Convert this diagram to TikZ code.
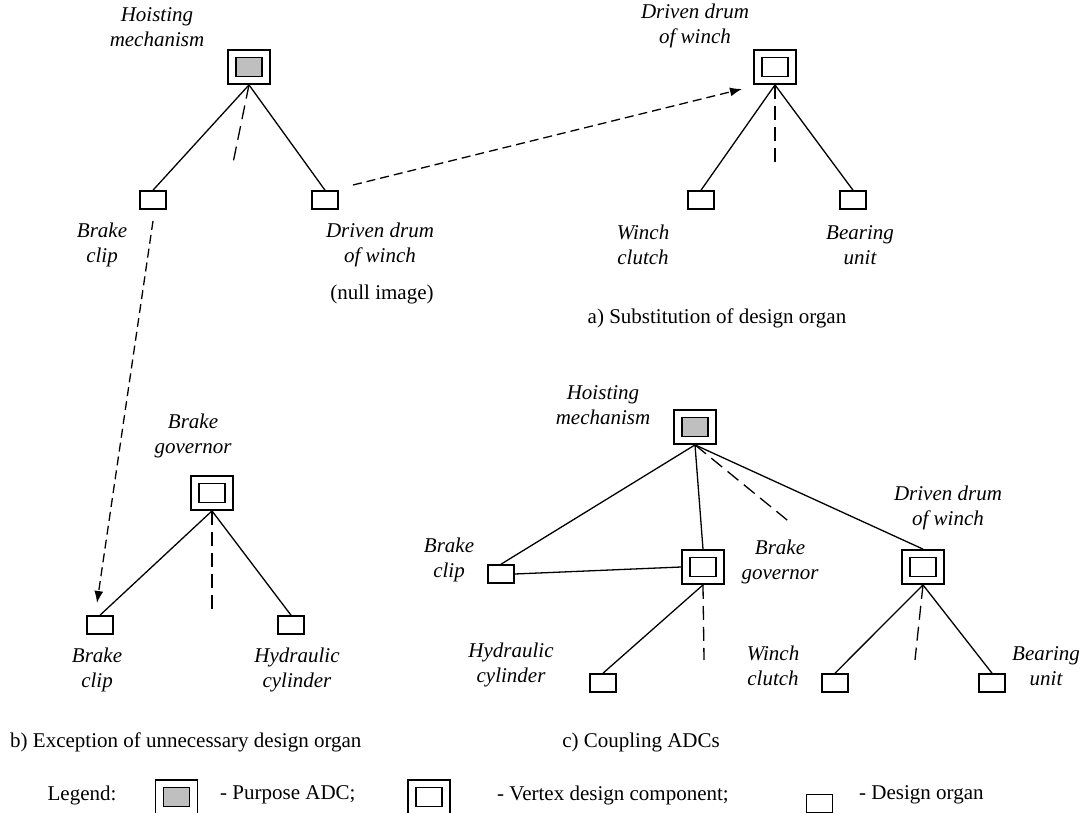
\documentclass[tikz,border=0pt]{standalone}
\usepackage{fontspec}
\setmainfont{Liberation Serif}
\usetikzlibrary{arrows.meta}
\begin{document}
\begin{tikzpicture}[x=1pt,y=-1pt,
  outerbox/.style={draw,line width=1.8pt,minimum width=42pt,minimum height=34pt,inner sep=0pt},
  innerbox/.style={draw,line width=1.8pt,minimum width=26pt,minimum height=19pt,inner sep=0pt},
  innergray/.style={innerbox,fill=gray!50},
  organ/.style={draw,line width=1.6pt,minimum width=26pt,minimum height=18pt,inner sep=0pt},
  link/.style={line width=1.3pt},
  dlink/.style={line width=1.3pt,dash pattern=on 14pt off 7pt},
  darrow/.style={line width=1.3pt,dash pattern=on 9pt off 5pt,-{Latex[length=12pt,width=9pt]}},
  lbl/.style={font=\fontsize{21}{25}\selectfont\itshape,align=center,inner sep=0pt},
  txt/.style={font=\fontsize{21}{25}\selectfont,inner sep=0pt}
]
\useasboundingbox (0,0) rectangle (1082,813);

% ---------- a) left tree ----------
\node[outerbox] (h1) at (249,67) {};
\node[innergray] (h1i) at (h1) {};
\node[organ] (bc1) at (153,200) {};
\node[organ] (dd1) at (325,200) {};
\coordinate (h1d) at (233,163);
\draw[link] (h1.south) -- (bc1.north);
\draw[link] (h1.south) -- (dd1.north);
\draw[dlink] (h1.south) -- (h1d);
\node[lbl] (h1l) at (157,27) {Hoisting\\mechanism};
\node[lbl] (bc1l) at (102,245) {Brake\\clip};
\node[lbl] (dd1l) at (380,245) {Driven drum\\of winch};
\node[txt] (nulll) at (382,294) {(null image)};

% ---------- a) right tree ----------
\node[outerbox] (dd2) at (775,67) {};
\node[innerbox] (dd2i) at (dd2) {};
\node[organ] (wc1) at (701,200) {};
\node[organ] (bu1) at (853,200) {};
\coordinate (dd2d) at (775,167);
\draw[link] (dd2.south) -- (wc1.north);
\draw[link] (dd2.south) -- (bu1.north);
\draw[dlink] (dd2.south) -- (dd2d);
\node[lbl] (dd2l) at (695,26) {Driven drum\\of winch};
\node[lbl] (wc1l) at (643,245) {Winch\\clutch};
\node[lbl] (bu1l) at (860,245) {Bearing\\unit};
\node[txt] (capa) at (717,318) {a) Substitution of design organ};

% substitution arrow
\coordinate (arA) at (353,185);
\coordinate (arB) at (742,89);
\draw[darrow] (arA) -- (arB);

% ---------- b) ----------
\node[outerbox] (g1) at (212,493) {};
\node[innerbox] (g1i) at (g1) {};
\node[organ] (bc3) at (100,625) {};
\node[organ] (hc1) at (291,625) {};
\coordinate (g1d) at (212,612);
\draw[link] (g1.south) -- (bc3.north);
\draw[link] (g1.south) -- (hc1.north);
\draw[dlink] (g1.south) -- (g1d);
\node[lbl] (g1l) at (193,436) {Brake\\governor};
\node[lbl] (bc3l) at (97,670) {Brake\\clip};
\node[lbl] (hc1l) at (297,670) {Hydraulic\\cylinder};
\node[txt,anchor=west] (capb) at (10,742) {b) Exception of unnecessary design organ};

% exception arrow
\coordinate (arC) at (153,221);
\coordinate (arD) at (97,603);
\draw[darrow] (arC) -- (arD);

% ---------- c) ----------
\node[outerbox] (h2) at (695,427) {};
\node[innergray] (h2i) at (h2) {};
\node[organ] (bc4) at (501,574) {};
\node[outerbox] (g2) at (703,567) {};
\node[innerbox] (g2i) at (g2) {};
\node[outerbox] (dd3) at (923,567) {};
\node[innerbox] (dd3i) at (dd3) {};
\node[organ] (hc2) at (603,683) {};
\node[organ] (wc2) at (835,683) {};
\node[organ] (bu2) at (992,683) {};
\coordinate (h2d) at (792,524);
\coordinate (g2d) at (704,660);
\coordinate (dd3d) at (915,660);
\draw[link] (h2.south) -- (bc4.north);
\draw[link] (h2.south) -- (g2.north);
\draw[dlink] (h2.south) -- (h2d);
\draw[link] (h2.south) -- (dd3.north);
\draw[link] (bc4.east) -- (g2.west);
\draw[link] (g2.south) -- (hc2.north);
\draw[dlink] (g2.south) -- (g2d);
\draw[link] (dd3.south) -- (wc2.north);
\draw[link] (dd3.south) -- (bu2.north);
\draw[dlink] (dd3.south) -- (dd3d);
\node[lbl] (h2l) at (603,405) {Hoisting\\mechanism};
\node[lbl] (bc4l) at (449,560) {Brake\\clip};
\node[lbl] (g2l) at (780,562) {Brake\\governor};
\node[lbl] (dd3l) at (948,508) {Driven drum\\of winch};
\node[lbl] (hc2l) at (511,665) {Hydraulic\\cylinder};
\node[lbl] (wc2l) at (773,666) {Winch\\clutch};
\node[lbl] (bu2l) at (1046,666) {Bearing\\unit};
\node[txt] (capc) at (641,742) {c) Coupling ADCs};

% ---------- legend ----------
\node[txt] (legl) at (82,795) {Legend:};
\node[outerbox] (lp) at (176.5,797) {};
\node[innergray] (lpi) at (lp) {};
\node[txt,anchor=west] (lpt) at (220,795) {- Purpose ADC;};
\node[outerbox] (lv) at (429,797) {};
\node[innerbox] (lvi) at (lv) {};
\node[txt,anchor=west] (lvt) at (497,795) {- Vertex design component;};
\node[organ] (lo) at (819.5,803.5) {};
\node[txt,anchor=west] (lot) at (859,795) {- Design organ};
\end{tikzpicture}
\end{document}
